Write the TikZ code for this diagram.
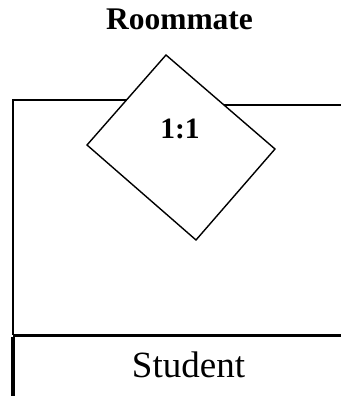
\documentclass[tikz,border=0pt]{standalone}
\usepackage{fontspec}
\setmainfont{Liberation Serif}
\begin{document}
\begin{tikzpicture}[x=1pt,y=-1pt,
  thinline/.style={line width=2pt},
  thickline/.style={line width=3.4pt},
  rel/.style={line width=1.4pt, fill=white, line join=miter},
  lbl/.style={inner sep=0pt, anchor=base}]
\useasboundingbox (0,0) rectangle (341,396);
% frame lines
\coordinate (tl) at (13,100);
\coordinate (tlend) at (130,100);
\coordinate (trstart) at (215,104.5);
\coordinate (trend) at (341,104.5);
\coordinate (split) at (13,335.3);
\coordinate (bl) at (13,396);
\coordinate (br) at (341,335.3);
\draw[thinline] (tlend) -- (tl) -- (split);
\draw[thinline] (trstart) -- (trend);
\draw[thickline] (split) -- (br);
\draw[thickline] ([yshift=-1.7pt]split) -- (bl);
% relationship diamond
\coordinate (dT) at (166,55);
\coordinate (dR) at (275,149);
\coordinate (dB) at (196,240);
\coordinate (dL) at (87,145);
\draw[rel] (dT) -- (dR) -- (dB) -- (dL) -- cycle;
% labels
\node[lbl, font=\bfseries\fontsize{31.5}{31.5}\selectfont] (roommate) at (179.5,30) {Roommate};
\node[lbl, font=\bfseries\fontsize{29.5}{29.5}\selectfont] (card) at (180,138) {1:1};
\node[lbl, font=\fontsize{37}{37}\selectfont] (student) at (188.5,377) {Student};
\end{tikzpicture}
\end{document}
